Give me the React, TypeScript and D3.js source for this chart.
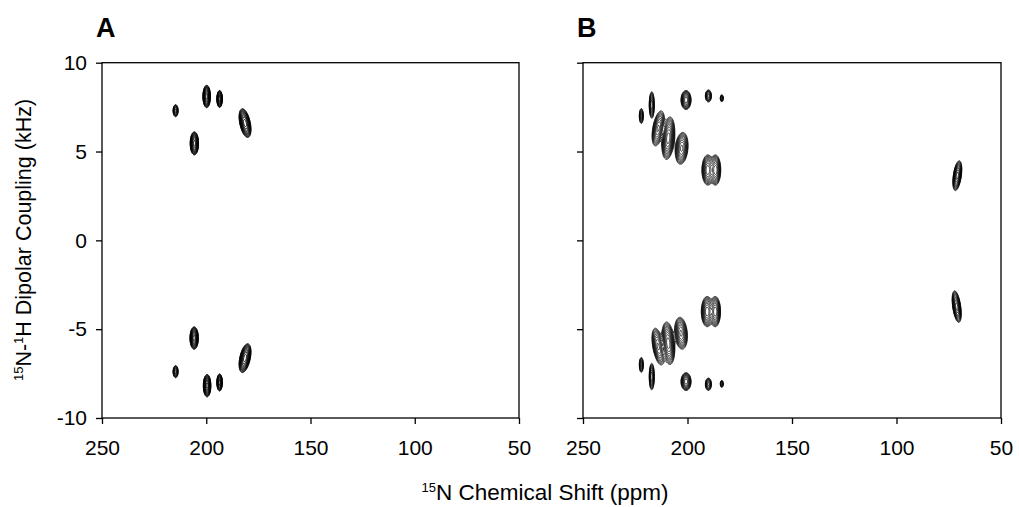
import React, { useRef, useEffect } from "react";
import * as d3 from "d3";

// ticks
const X_TICKS = [250, 200, 150, 100, 50];
const Y_TICKS = [10, 5, 0, -5, -10];

// peaks: [ppm, kHz, width ppm, height kHz, tilt deg, intensity]
const PEAKS_A: number[][] = [
  [214.7, 7.3, 2.4, 0.68, 0, 0.35],
  [199.8, 8.1, 3.6, 1.26, 0, 1],
  [193.6, 7.96, 2.6, 0.96, 0, 0.8],
  [181.4, 6.6, 5.0, 1.65, -12, 1],
  [205.7, 5.46, 4.0, 1.3, 0, 1],
  [205.8, -5.5, 4.0, 1.26, 0, 1],
  [214.7, -7.39, 2.4, 0.68, 0, 0.35],
  [199.6, -8.18, 3.6, 1.26, 0, 1],
  [193.6, -8.0, 2.6, 0.96, 0, 0.8],
  [181.4, -6.63, 5.0, 1.65, 12, 1],
];

const PEAKS_B: number[][] = [
  [222.1, 7.0, 1.9, 0.85, 0, 0.35],
  [217.1, 7.62, 2.4, 1.5, 0, 0.5],
  [200.7, 7.9, 4.8, 1.07, 0, 0.8],
  [190.0, 8.13, 2.9, 0.68, 0, 0.45],
  [183.6, 8.0, 1.4, 0.4, 0, 0.3],
  [214.0, 6.3, 5.2, 2.0, 10, 0.7],
  [209.2, 5.75, 6.0, 2.4, 5, 1],
  [202.8, 5.18, 6.0, 1.8, 5, 0.7],
  [190.3, 3.96, 5.6, 1.7, 0, 0.8],
  [186.6, 3.96, 5.0, 1.7, 0, 0.8],
  [70.9, 3.64, 3.8, 1.7, 8, 1],
  [222.1, -7.01, 1.9, 0.85, 0, 0.35],
  [217.1, -7.67, 2.4, 1.5, 0, 0.5],
  [200.7, -7.95, 4.8, 1.0, 0, 0.8],
  [190.0, -8.1, 2.9, 0.7, 0, 0.45],
  [183.6, -8.08, 1.4, 0.4, 0, 0.3],
  [214.0, -5.98, 5.2, 2.1, -10, 0.7],
  [209.2, -5.79, 6.0, 2.4, -5, 1],
  [203.1, -5.23, 6.0, 1.8, -5, 0.7],
  [190.6, -4.01, 5.6, 1.7, 0, 0.8],
  [186.7, -4.01, 5.0, 1.7, 0, 0.8],
  [71.2, -3.73, 3.8, 1.8, -8, 1],
];

const FONT = "'Liberation Sans', Arial, Helvetica, sans-serif";
const BASE = 0.06;

const App = () => {
  const svgRef = useRef<SVGSVGElement>(null);

  useEffect(() => {
    const svg = d3.select(svgRef.current);
    svg.selectAll("*").remove();

    const top = 62.7;
    const bottom = 418;
    const panels = [
      { label: "A", x0: 102, x1: 519, peaks: PEAKS_A, showY: true, sw: 0.9 },
      { label: "B", x0: 583, x1: 1001, peaks: PEAKS_B, showY: false, sw: 0.75 },
    ];

    const yScale = d3.scaleLinear().domain([-10, 10]).range([bottom, top]);

    panels.forEach((p) => {
      const xScale = d3.scaleLinear().domain([250, 50]).range([p.x0, p.x1]);
      const w = Math.round(p.x1 - p.x0);
      const h = Math.round(bottom - top);

      // build spectrum grid from peak list
      const values = new Float64Array(w * h);
      p.peaks.forEach(([ppm, khz, wp, hk, tilt, amp]) => {
        const cx = xScale(ppm) - p.x0;
        const cy = yScale(khz) - top;
        const hx = Math.abs(xScale(ppm + wp / 2) - xScale(ppm - wp / 2)) / 2;
        const hy = Math.abs(yScale(khz + hk / 2) - yScale(khz - hk / 2)) / 2;
        const k = Math.sqrt(2 * Math.log(amp / BASE));
        const sx = hx / k;
        const sy = hy / k;
        const th = (tilt * Math.PI) / 180;
        const c = Math.cos(th), s = Math.sin(th);
        const r = Math.ceil(Math.max(sx, sy) * 5) + 2;
        for (let j = Math.max(0, Math.floor(cy - r)); j < Math.min(h, cy + r); j++) {
          for (let i = Math.max(0, Math.floor(cx - r)); i < Math.min(w, cx + r); i++) {
            const dx = i + 0.5 - cx;
            const dy = j + 0.5 - cy;
            const across = dx * c + dy * s;
            const along = dx * s - dy * c;
            values[j * w + i] += amp * Math.exp(-(across * across) / (2 * sx * sx) - (along * along) / (2 * sy * sy));
          }
        }
      });

      const levels: number[] = [];
      for (let v = BASE; v < 2; v *= 1.3) levels.push(v);
      const contours = d3.contours().size([w, h]).thresholds(levels)(Array.from(values));

      svg
        .append("g")
        .attr("transform", `translate(${p.x0},${top})`)
        .selectAll("path")
        .data(contours)
        .enter()
        .append("path")
        .attr("d", d3.geoPath())
        .attr("fill", "none")
        .attr("stroke", "#000")
        .attr("stroke-width", p.sw);

      // frame
      svg
        .append("rect")
        .attr("x", p.x0)
        .attr("y", top)
        .attr("width", p.x1 - p.x0)
        .attr("height", bottom - top)
        .attr("fill", "none")
        .attr("stroke", "#000")
        .attr("stroke-width", 1.3);

      const xAxis = svg
        .append("g")
        .attr("transform", `translate(0,${bottom})`)
        .call(d3.axisBottom(xScale).tickValues(X_TICKS).tickSize(6).tickSizeOuter(0).tickPadding(16));
      xAxis.select(".domain").remove();
      xAxis.selectAll("line").attr("stroke-width", 1.3);
      xAxis.selectAll("text").attr("font-size", 21).attr("font-family", FONT).attr("fill", "#000");

      const yAxis = svg
        .append("g")
        .attr("transform", `translate(${p.x0},0)`)
        .call(
          d3
            .axisLeft(yScale)
            .tickValues(Y_TICKS)
            .tickSize(6)
            .tickSizeOuter(0)
            .tickPadding(9)
            .tickFormat(p.showY ? (d) => String(d) : () => "")
        );
      yAxis.select(".domain").remove();
      yAxis.selectAll("line").attr("stroke-width", 1.3);
      yAxis.selectAll("text").attr("font-size", 21).attr("font-family", FONT).attr("fill", "#000");

      svg
        .append("text")
        .attr("x", p.x0 - 6)
        .attr("y", 37)
        .attr("font-family", FONT)
        .attr("font-weight", "bold")
        .attr("font-size", 27)
        .text(p.label);
    });

    // axis titles
    const xt = svg
      .append("text")
      .attr("x", 545)
      .attr("y", 500)
      .attr("text-anchor", "middle")
      .attr("font-family", FONT)
      .attr("font-size", 22.5);
    xt.append("tspan").attr("font-size", 13).attr("dy", -8).text("15");
    xt.append("tspan").attr("dy", 8).text("N Chemical Shift (ppm)");

    const yt = svg
      .append("text")
      .attr("transform", `translate(31,240) rotate(-90)`)
      .attr("text-anchor", "middle")
      .attr("font-family", FONT)
      .attr("font-size", 21.5);
    yt.append("tspan").attr("font-size", 13).attr("dy", -8).text("15");
    yt.append("tspan").attr("dy", 8).text("N-");
    yt.append("tspan").attr("font-size", 13).attr("dy", -8).text("1");
    yt.append("tspan").attr("dy", 8).text("H Dipolar Coupling (kHz)");
  }, []);

  return (
    <svg
      ref={svgRef}
      width={1019}
      height={507}
      style={{ position: "absolute", left: 0, top: 0, background: "#fff" }}
    />
  );
};

export default App;
